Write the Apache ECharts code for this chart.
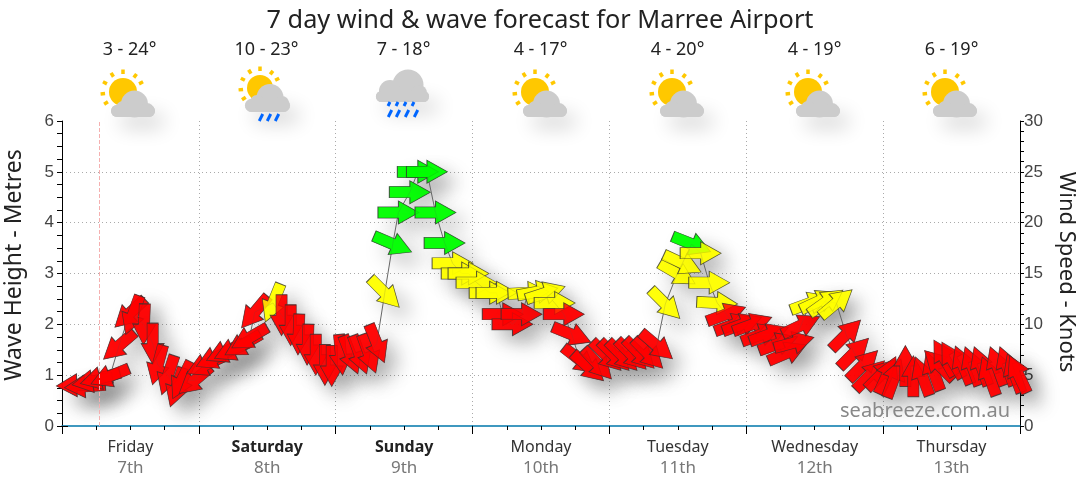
<!DOCTYPE html>
<html><head><meta charset="utf-8">
<style>html,body{margin:0;padding:0;background:#fff}#c{width:1080px;height:490px}</style>
<script src="https://cdn.jsdelivr.net/npm/echarts@6/dist/echarts.min.js"></script>
</head><body><div id="c"></div>
<script>
const FONT = '"Noto Sans", "DejaVu Sans", sans-serif';
const NUMFONT = '"Liberation Sans", Arial, sans-serif';
const titleText = '7 day wind & wave forecast for Marree Airport';
const leftName = 'Wave Height - Metres';
const rightName = 'Wind Speed - Knots';
const days = ['Friday','Saturday','Sunday','Monday','Tuesday','Wednesday','Thursday'];
const dates = ['7th','8th','9th','10th','11th','12th','13th'];
const boldDays = ['Saturday','Sunday'];
const temps = ['3 - 24°','10 - 23°','7 - 18°','4 - 17°','4 - 20°','4 - 19°','6 - 19°'];
const skies = ['sun','rainSun','rain','sun','sun','sun','sun'];
const hours = [2.6,4.0,5.3,6.7,8.4,10.0,11.9,12.4,14.4,15.9,16.8,18.6,20.1,21.0,23.3,25.1,26.8,28.6,30.0,31.7,32.9,33.8,37.0,38.5,40.1,41.5,43.1,44.5,46.1,47.3,48.9,50.6,52.2,53.8,55.2,56.6,58.0,59.0,61.0,62.4,64.0,65.5,67.1,68.5,70.1,71.3,72.7,75.0,76.2,77.3,79.0,80.6,81.8,83.4,84.8,86.4,88.0,89.4,90.8,92.3,93.9,95.5,96.9,98.3,99.9,101.3,102.8,104.3,105.8,107.9,108.8,110.4,112.0,113.5,114.9,116.5,117.9,119.3,121.1,122.6,124.0,125.6,127.2,128.4,129.6,131.2,132.8,134.0,135.8,137.5,138.9,140.5,141.7,143.7,144.7,145.9,147.9,149.3,150.9,152.8,153.8,154.7,156.1,158.0,159.6,161.2,162.6,164.0,165.7,167.0,167.7];
const knots = [4.0,3.9,4.4,4.7,4.9,7.9,11.1,10.9,10.0,8.1,6.0,5.0,3.8,4.5,4.5,6.0,6.7,7.3,7.5,8.0,8.7,11.2,12.1,10.9,9.9,9.0,8.0,7.0,6.0,5.9,7.0,7.0,7.0,7.1,8.1,13.1,17.9,21.0,23.0,25.0,25.0,21.0,18.0,16.0,15.0,15.0,14.1,13.1,13.1,11.0,10.0,11.0,13.1,13.2,13.1,12.1,11.0,9.0,6.5,5.8,6.1,6.9,6.9,6.9,7.0,7.1,7.1,7.9,12.0,15.0,16.0,17.9,17.0,14.1,12.1,11.0,10.0,10.0,10.0,9.0,9.0,8.1,7.2,8.2,9.9,12.1,12.3,12.2,12.1,9.0,7.2,6.0,5.0,5.1,5.0,4.7,5.9,4.9,4.9,5.4,6.0,6.7,6.5,6.0,5.9,5.9,4.9,5.9,5.9,5.2,5.1];
const headings = [178,176,170,165,158,139,137,110,92,90,105,108,108,116,140,155,155,155,155,150,150,130,112,90,90,92,92,90,90,90,85,69,70,70,68,45,23,0,0,0,0,0,0,0,0,0,0,0,0,0,0,0,-3,-10,-18,0,0,22,38,42,47,45,45,45,45,45,45,40,45,30,25,22,0,0,3,-20,-20,-20,-20,-20,-20,-20,-23,-15,-25,-20,-25,-35,-40,-45,-45,-45,-45,-45,-65,-70,-90,-90,-110,-110,-135,-120,-120,-112,-110,-110,-110,-110,-110,-110,-115];
const bands = 'RRRRRRRRRRRRRRRRRRRRRRYRRRRRRRRRRRRYGGGGGGGYYYYYYRRRYYYYRRRRRRRRRRRRYYYGYYYRRRRRRRRRRYYYYRRRRRRRRRRRRRRRRRRRRRR'.split('');
const bandColors = {R:'#ff0000',Y:'#ffff00',G:'#00ff00'};
const nowHour = 6.55;
const ARROW = 'path://M0,17 L60,17 L60,0 L120,33 L60,66 L60,49 L0,49 Z';

const arrowData = hours.map((h,i)=>({value:[h,knots[i]],symbolRotate:-headings[i],itemStyle:{color:bandColors[bands[i]]}}));
const arrowCommon = {type:'scatter',xAxisIndex:0,yAxisIndex:1,symbol:ARROW,symbolSize:[41,23],clip:false,silent:true,data:arrowData};

function rain(segs){return segs.map(s=>({type:'line',shape:{x1:s[0]+s[2]/4,y1:s[1],x2:s[0]-s[2]/4,y2:s[1]+s[2]},style:{stroke:'#0066ff',lineWidth:3}}));}
function cloud(parts){
  const shadow = {type:'rect',shape:parts.base,style:{fill:'#ccc',shadowColor:'rgba(0,0,0,0.2)',shadowBlur:20,shadowOffsetX:9,shadowOffsetY:10}};
  return [shadow].concat(parts.circles.map(c=>({type:'circle',shape:{cx:c[0],cy:c[1],r:c[2]},style:{fill:'#ccc'}})),[{type:'rect',shape:parts.base,style:{fill:'#ccc'}}]);
}
function sun(r){
  const rays=[-90,-53,-27,-122,-153,175,147];
  const els=rays.map(a=>{const t=a*Math.PI/180;return {type:'line',shape:{x1:Math.cos(t)*(r+4),y1:Math.sin(t)*(r+4),x2:Math.cos(t)*(r+8.5),y2:Math.sin(t)*(r+8.5)},style:{stroke:'#ffc800',lineWidth:3.5}}});
  els.push({type:'circle',shape:{cx:0,cy:0,r:r},style:{fill:'#ffc800'}});
  return els;
}
function icon(kind,i){
  const cx=[123,260,403,535,672,808,945][i], cy=kind==='rain'?86:(kind==='rainSun'?88:92);
  let ch=[];
  if(kind==='sun'){
    ch=sun(14).concat(cloud({base:{x:-12,y:13,width:44,height:12,r:6},circles:[[11.5,12,13.5],[0,16,7],[24,18,7]]}));
  } else if(kind==='rainSun'){
    ch=sun(13).concat(cloud({base:{x:-15,y:11,width:45,height:13,r:6.5},circles:[[10,9.5,13.5],[-3,14,7],[22,15,7]]}),rain([[1,26,7],[9,26,7],[17,26,7]]));
  } else {
    ch=cloud({base:{x:-27,y:5,width:53,height:11,r:5.5},circles:[[5,-1,15.5],[-13,5,11],[16,7,8]]}).concat(
      rain([[-14,16,4],[-6,16,4],[2,16,4],[10,16,4],[-13,24,7],[-5,24,7],[4,24,7],[13,24,7]]));
  }
  return {type:'group',x:cx,y:cy,silent:true,children:ch};
}
const centers=days.map((d,i)=>129.5+i*137);
const graphics=[];
temps.forEach((t,i)=>graphics.push({type:'text',x:centers[i],y:50,silent:true,style:{text:t,fill:'#222',font:'18px '+FONT,textAlign:'center',textVerticalAlign:'middle'}}));
skies.forEach((k,i)=>graphics.push(icon(k,i)));
graphics.push({type:'text',x:1010,y:411,z:100,silent:true,style:{text:'seabreeze.com.au',fill:'#888',font:'20px '+FONT,textAlign:'right',textVerticalAlign:'middle'}});
graphics.push({type:'line',silent:true,z:50,shape:{x1:62,y1:426.5,x2:68,y2:426.5},style:{stroke:'#000',lineWidth:1}});
graphics.push({type:'text',x:14,y:265,rotation:Math.PI/2,silent:true,style:{text:leftName,fill:'#222',font:'23px '+FONT,textAlign:'center',textVerticalAlign:'middle'}});
graphics.push({type:'text',x:1066,y:272,rotation:-Math.PI/2,silent:true,style:{text:rightName,fill:'#222',font:'22px '+FONT,textAlign:'center',textVerticalAlign:'middle'}});

const dayRich={n:{fontSize:16,color:'#333',fontFamily:FONT,lineHeight:21,align:'center'},b:{fontSize:16,fontWeight:'bold',color:'#222',fontFamily:FONT,lineHeight:21,align:'center'},d:{fontSize:17,color:'#777',fontFamily:FONT,lineHeight:21,align:'center'}};

const chart=echarts.init(document.getElementById('c'),null,{renderer:'canvas'});
chart.setOption({
  animation:false,
  backgroundColor:'#fff',
  title:{text:titleText,left:'center',top:3,textStyle:{fontFamily:FONT,fontSize:25.3,fontWeight:'normal',color:'#222'},itemGap:0},
  grid:{left:62,right:60,top:121,bottom:64,containLabel:false,outerBoundsMode:'none'},
  xAxis:[
   {type:'value',min:0,max:168,interval:24,position:'bottom',
    axisLine:{lineStyle:{color:'#0077aa',width:1.5},onZero:false},
    axisTick:{show:true,length:8,lineStyle:{color:'#000'}},
    minorTick:{show:true,splitNumber:4,length:4,lineStyle:{color:'#000'}},
    axisLabel:{show:false},
    splitLine:{show:true,showMinLine:false,showMaxLine:false,lineStyle:{color:'#aaa',type:[1,3]}}},
   {type:'category',data:days,position:'bottom',boundaryGap:true,
    axisLine:{show:false},axisTick:{show:false},
    axisLabel:{margin:11,interval:0,rich:dayRich,
      formatter:(v,i)=>'{'+(boldDays.includes(v)?'b':'n')+'|'+v+'}\n{d|'+dates[i]+'}'}}
  ],
  yAxis:[
   {type:'value',min:0,max:6,interval:1,position:'left',
    axisLine:{show:true,onZero:false,lineStyle:{color:'#000'}},
    axisTick:{show:true,length:5,lineStyle:{color:'#000'}},
    minorTick:{show:true,splitNumber:4,length:5,lineStyle:{color:'#000'}},
    axisLabel:{fontFamily:NUMFONT,fontSize:17,color:'#444',margin:8},
    splitLine:{show:true,showMinLine:false,showMaxLine:false,lineStyle:{color:'#aaa',type:[1,3]}}},
   {type:'value',min:0,max:30,interval:5,position:'right',
    axisLine:{show:true,onZero:false,lineStyle:{color:'#000'}},
    axisTick:{show:true,length:4,lineStyle:{color:'#000'}},
    minorTick:{show:true,splitNumber:5,length:4,lineStyle:{color:'#000'}},
    axisLabel:{fontFamily:NUMFONT,fontSize:17,color:'#444',margin:4},
    splitLine:{show:false}}
  ],
  series:[
   Object.assign({},arrowCommon,{z:2,itemStyle:{borderWidth:0,shadowColor:'rgba(0,0,0,0.32)',shadowBlur:20,shadowOffsetX:11,shadowOffsetY:11}}),
   {type:'line',xAxisIndex:0,yAxisIndex:1,z:3,symbol:'none',silent:true,data:hours.map((h,i)=>[h,knots[i]]),lineStyle:{color:'#666',width:1},
    markLine:{silent:true,symbol:'none',label:{show:false},lineStyle:{color:'#f5b0b0',type:'dashed',width:1},data:[{xAxis:nowHour}]}},
   Object.assign({},arrowCommon,{z:4,itemStyle:{borderColor:'#333',borderWidth:0.8}})
  ],
  graphic:graphics
});
</script></body></html>
